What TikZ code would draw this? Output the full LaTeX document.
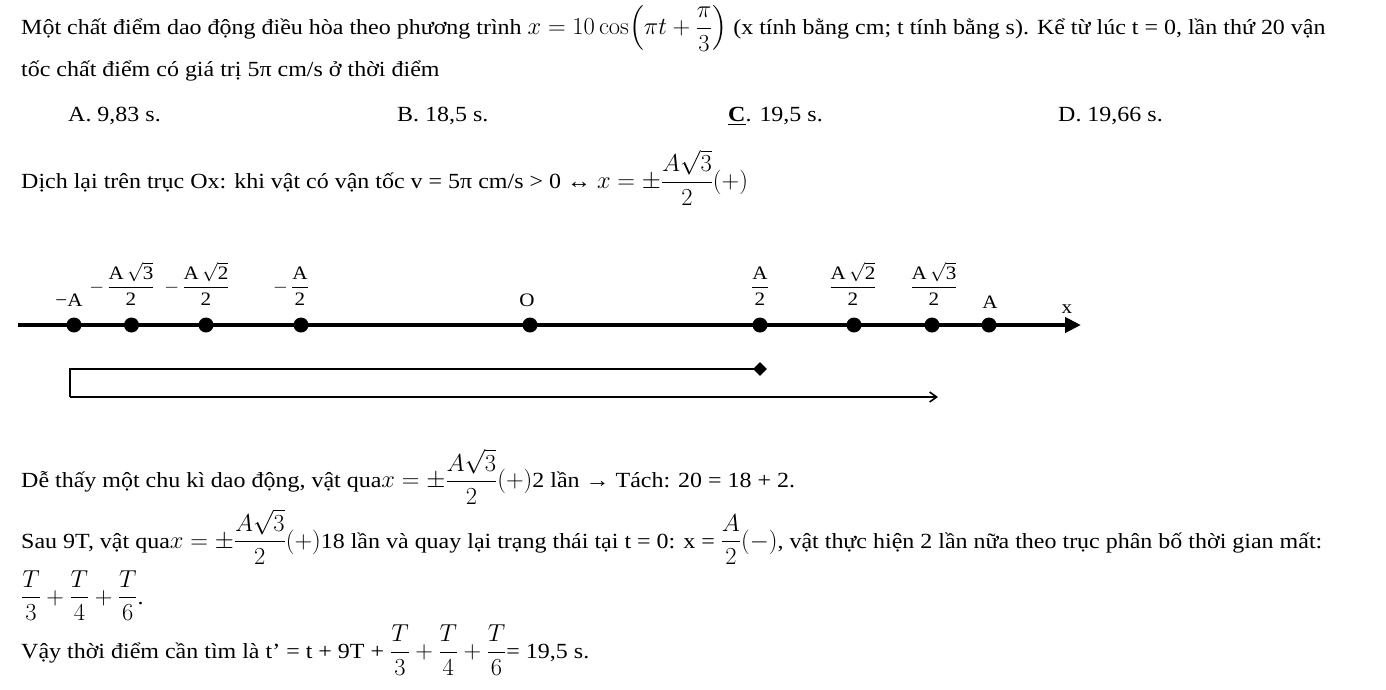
\RequirePackage{fix-cm}
\documentclass[tikz,border=0pt]{standalone}
\usepackage{amsmath}
\usepackage[no-math]{fontspec}
\setmainfont{Liberation Serif}[FakeStretch=1.11]
\usetikzlibrary{arrows.meta,shapes.geometric}

% Formel etwas größer als der Text
\newcommand{\mth}[1]{{\fontsize{24.5}{28}\selectfont$#1$}}

\tikzset{
  body/.style={anchor=base west, inner sep=0pt, font=\fontsize{21.6}{26}\selectfont},
  lab/.style={anchor=base, inner sep=0pt, font=\fontsize{19}{22}\selectfont},
  dot/.style={circle, fill, inner sep=0pt, minimum size=15pt},
}

\begin{document}
\begin{tikzpicture}[x=1pt,y=-1pt]
  \useasboundingbox (0,0) rectangle (1386,689);
  % Đề bài
  \node[body] (de1) at (21,34.5) {Một chất điểm dao động điều hòa theo phương trình \mth{x=10\cos\Bigl(\pi t+\dfrac{\pi}{3}\Bigr)} (x tính bằng cm; t tính bằng s). Kể từ lúc t = 0, lần thứ 20 vận};
  \node[body] (de2) at (21,76.7) {tốc chất điểm có giá trị 5π cm/s ở thời điểm};
  % Đáp án
  \node[body] (optA) at (68,121.5) {A. 9,83 s.};
  \node[body] (optB) at (397,121.5) {B. 18,5 s.};
  \node[body] (optC) at (728,121.5) {\underline{\textbf{C}}. 19,5 s.};
  \node[body] (optD) at (1058,121.5) {D. 19,66 s.};
  % Lời giải
  \node[body] (lg1) at (21,188.5) {Dịch lại trên trục Ox: khi vật có vận tốc v = 5π cm/s > 0 ↔ \mth{x=\pm\dfrac{A\sqrt{3}}{2}(+)}};

  % Trục Ox
  \coordinate (x0) at (18,325);
  \coordinate (x1) at (1081,325);
  \draw[line width=4pt, -{Triangle[length=16pt,width=15pt]}] (x0) -- (x1);
  \node[dot] (mA) at (74,325) {};
  \node[dot] (mA3) at (131.5,325) {};
  \node[dot] (mA2) at (206,325) {};
  \node[dot] (mA1) at (301,325) {};
  \node[dot] (O) at (530,325) {};
  \node[dot] (pA1) at (760,325) {};
  \node[dot] (pA2) at (854,325) {};
  \node[dot] (pA3) at (932,325) {};
  \node[dot] (pA) at (989,325) {};
  % Beschriftungen der Punkte
  \node[lab] at (69,306) {−A};
  \node[lab] at (131,292) {$\llap{$-$\,}\dfrac{\text{A}\,\sqrt{\text{3}}}{\text{2}}$};
  \node[lab] at (206,292) {$\llap{$-$\,}\dfrac{\text{A}\,\sqrt{\text{2}}}{\text{2}}$};
  \node[lab] at (300,292) {$\llap{$-$\,}\dfrac{\text{A}}{\text{2}}$};
  \node[lab] at (527,306) {O};
  \node[lab] at (760,292) {$\dfrac{\text{A}}{\text{2}}$};
  \node[lab] at (853,292) {$\dfrac{\text{A}\,\sqrt{\text{2}}}{\text{2}}$};
  \node[lab] at (934,292) {$\dfrac{\text{A}\,\sqrt{\text{3}}}{\text{2}}$};
  \node[lab] at (990,308) {A};
  \node[lab] at (1067,313) {x};

  % Zeitachse
  \coordinate (r1) at (70,369);
  \coordinate (r2) at (70,397);
  \coordinate (r3) at (938,397);
  \node[diamond, fill, inner sep=0pt, minimum size=14pt] (dm) at (760,369) {};
  \draw[line width=2pt] (dm.center) -- (r1) -- (r2);
  \draw[line width=1.6pt, -{Straight Barb[length=7pt,width=10pt]}] (r2) -- (r3);

  % Lời giải tiếp
  \node[body] (lg2) at (21,487.7) {Dễ thấy một chu kì dao động, vật qua\mth{x=\pm\dfrac{A\sqrt{3}}{2}(+)}2 lần → Tách: 20 = 18 + 2.};
  \node[body] (lg3) at (21,548) {Sau 9T, vật qua\mth{x=\pm\dfrac{A\sqrt{3}}{2}(+)}18 lần và quay lại trạng thái tại t = 0: x = \mth{\dfrac{A}{2}(-)}, vật thực hiện 2 lần nữa theo trục phân bố thời gian mất:};
  \node[body] (lg4) at (21,604) {\mth{\dfrac{T}{3}+\dfrac{T}{4}+\dfrac{T}{6}}.};
  \node[body] (lg5) at (21,658.5) {Vậy thời điểm cần tìm là t’ = t + 9T + \mth{\dfrac{T}{3}+\dfrac{T}{4}+\dfrac{T}{6}}= 19,5 s.};
\end{tikzpicture}
\end{document}
